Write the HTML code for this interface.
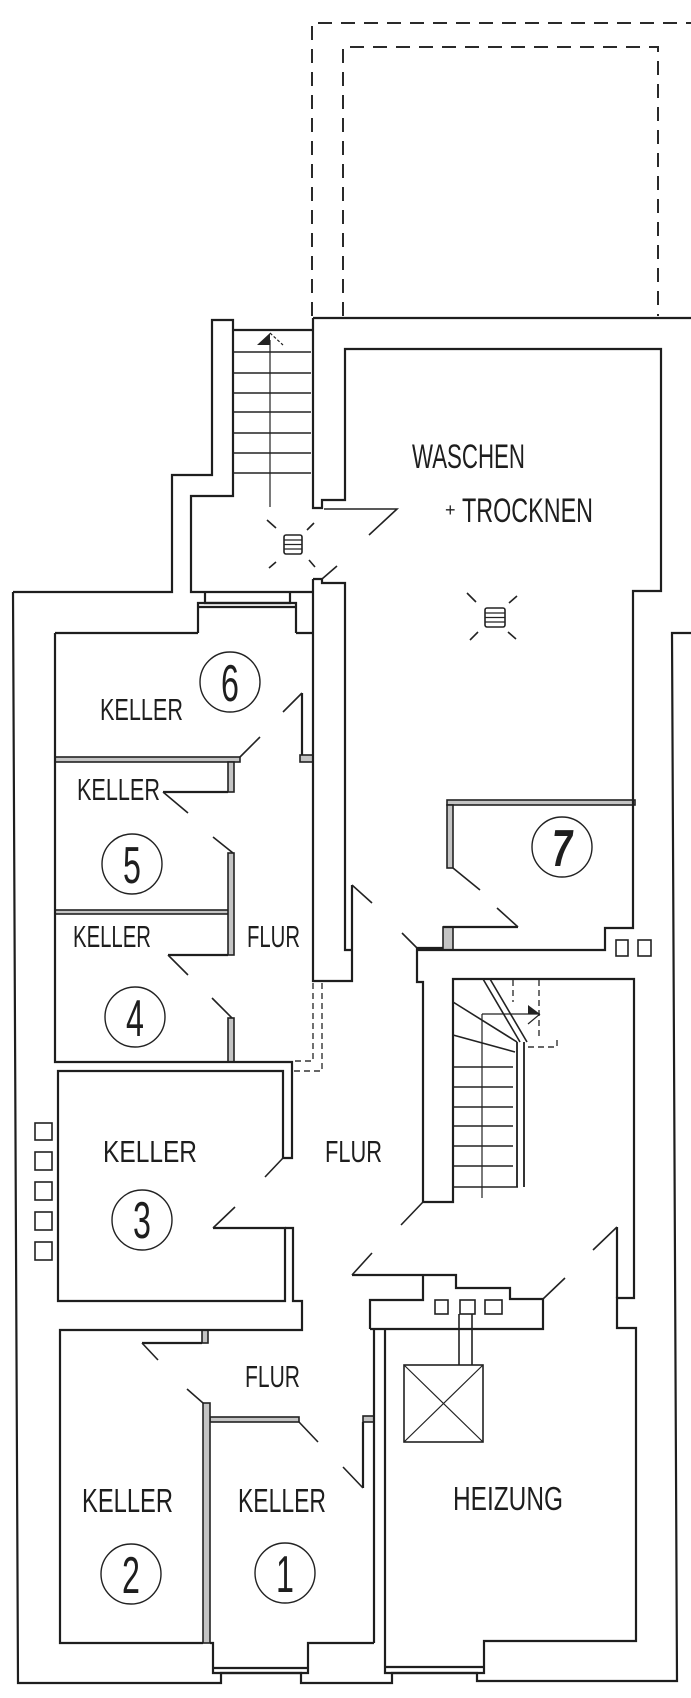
<!DOCTYPE html>
<html>
<head>
<meta charset="utf-8">
<style>
html,body{margin:0;padding:0;background:#fff;}
svg{display:block;}
text{font-family:"Liberation Sans Narrow","Liberation Sans",sans-serif;fill:#1e1e1e;}
</style>
</head>
<body>
<svg width="691" height="1698" viewBox="0 0 691 1698" xmlns="http://www.w3.org/2000/svg">
<rect width="691" height="1698" fill="#fff"/>

<!-- dashed outlines top -->
<g fill="none" stroke="#2a2a2a" stroke-width="2" stroke-dasharray="14,9">
  <path d="M312,316 V23 H691"/>
  <path d="M343,316 V47 H658 V316"/>
</g>

<!-- grey filled thick partitions -->
<g fill="#c4c4c4" stroke="#222" stroke-width="1.6">
  <rect x="55" y="757" width="185" height="5"/>
  <rect x="55" y="910" width="178" height="4"/>
  <rect x="228" y="762" width="6" height="30"/>
  <rect x="228" y="853" width="6" height="102"/>
  <rect x="228" y="1018" width="6" height="44"/>
  <rect x="300" y="755" width="13" height="7"/>
  <rect x="447" y="800" width="188" height="5"/>
  <rect x="447" y="805" width="6" height="63"/>
  <rect x="443" y="927" width="10" height="23"/>
  <rect x="210" y="1417" width="89" height="5"/>
  <rect x="203" y="1403" width="7" height="240"/>
  <rect x="202" y="1330" width="6" height="13"/>
  <rect x="363" y="1416" width="11" height="6"/>
</g>

<!-- main walls -->
<g fill="none" stroke="#1e1e1e" stroke-width="2.2" stroke-linejoin="miter">
  <!-- outer top solid -->
  <path d="M313,318 H691"/>
  <!-- stair left wall & landing -->
  <path d="M13,592 H172 V475 H212 V320 H233 V496 H191 V592 H313"/>
  <path d="M233,330 H313"/>
  <path d="M313,318 V508 H322 V500 H345 V349 H661 V591 H633 V928 H605 V950 H417"/>
  <path d="M313,579 H322 V583 H345 V950 H352"/>
  <path d="M313,579 V981 H352 V885"/>
  <!-- landing thresholds -->
  <path d="M205,592 V603 H290 V592"/>
  <path d="M198,633 V603 H296 V633"/>
  <path d="M198,607 H296"/>
  <!-- keller block 4-6 -->
  <path d="M55,633 H198"/>
  <path d="M296,633 H313"/>
  <path d="M55,633 V1062 H292 V1158 H283 V1071 H58 V1301 H285 V1228 H213"/>
  <path d="M285,1228 H293 V1301 H302 V1330 H60 V1643 H203"/>
  <!-- outer left & bottom -->
  <path d="M13,592 L18,1683 H221 V1673 H301 V1683 H392 V1673 H477 V1681 H677 L672,633 H691"/>
  <!-- keller 1 bottom & threshold -->
  <path d="M210,1643 H213 V1673 H308 V1643 H374"/>
  <path d="M213,1668 H308"/>
  <!-- heizung -->
  <path d="M374,1329 V1643"/>
  <path d="M385,1329 V1673 H484 V1641 H636 V1328 H617 V1298 H634 V979 H453 V1202 H423 V982 H417 V948 H443"/>
  <path d="M385,1667 H484"/>
  <path d="M370,1329 H543 V1299 H510 V1288 H456 V1275 H352"/>
  <path d="M370,1329 V1300 H423 V1275"/>
  <!-- keller 7 -->
  <path d="M518,927 H443"/>
  <!-- stair right stringer verticals -->
  <path d="M517,1042 V1187 M524,1042 V1187" stroke-width="1.8"/>
  <path d="M617,1227 V1298"/>
  <path d="M363,1422 V1488"/>
  <path d="M302,693 V755"/>
  <path d="M163,792 H228"/>
  <path d="M168,955 H228"/>
  <path d="M142,1343 H202"/>
</g>

<!-- dashed near keller 3 -->
<g fill="none" stroke="#333" stroke-width="1.4" stroke-dasharray="6,4">
  <path d="M313,983 V1061 H293"/>
  <path d="M322,983 V1071 H293"/>
  <path d="M513,980 V1002"/>
  <path d="M539,980 V1040"/>
  <path d="M528,1047 H557 V1040"/>
</g>

<!-- door ticks & stair lines -->
<g fill="none" stroke="#222" stroke-width="1.6">
  <path d="M324,509 H397 L369,535"/>
  <path d="M322,579 L337,566"/>
  <path d="M240,757 L260,737"/>
  <path d="M283,712 L302,693"/>
  <path d="M163,792 L188,813"/>
  <path d="M213,837 L233,853"/>
  <path d="M168,955 L188,975"/>
  <path d="M212,998 L232,1018"/>
  <path d="M352,885 L372,903"/>
  <path d="M402,933 L417,948"/>
  <path d="M453,868 L480,890"/>
  <path d="M497,908 L518,927"/>
  <path d="M283,1158 L265,1177"/>
  <path d="M213,1228 L235,1207"/>
  <path d="M423,1202 L401,1225"/>
  <path d="M352,1275 L372,1253"/>
  <path d="M543,1299 L565,1278"/>
  <path d="M617,1227 L593,1250"/>
  <path d="M142,1343 L158,1360"/>
  <path d="M187,1389 L203,1403"/>
  <path d="M299,1422 L318,1442"/>
  <path d="M343,1467 L363,1488"/>
  <!-- upper stair steps -->
  <path d="M233,352 H311 M233,373 H311 M233,393 H311 M233,412 H311 M233,433 H311 M233,453 H311 M233,473 H311"/>
  <path d="M270,340 V507" stroke-width="1.2"/>
  <!-- lower stair -->
  <path d="M483,979 L520,1042 M490,979 L527,1042"/>
  <path d="M453,1002 L517,1042 M453,1035 L515,1052"/>
  <path d="M454,1067 H513 M454,1087 H513 M454,1107 H513 M454,1126 H513 M454,1146 H513 M454,1166 H513 M454,1187 H518"/>
  <path d="M482,1014 V1198" stroke-width="1.2"/>
  <path d="M482,1014 H540" stroke-width="1.2"/>
  <!-- flue lines and heizung box -->
  <path d="M459,1314 V1365 M472,1314 V1365"/>
  <rect x="404" y="1365" width="79" height="77"/>
  <path d="M404,1365 L483,1442 M483,1365 L404,1442" stroke-width="1.2"/>
  <!-- small squares -->
  <rect x="35" y="1123" width="17" height="17"/>
  <rect x="35" y="1152" width="17" height="18"/>
  <rect x="35" y="1182" width="17" height="18"/>
  <rect x="35" y="1212" width="17" height="18"/>
  <rect x="35" y="1242" width="17" height="18"/>
  <rect x="616" y="940" width="12" height="16"/>
  <rect x="638" y="940" width="13" height="16"/>
  <rect x="435" y="1300" width="13" height="14"/>
  <rect x="460" y="1300" width="15" height="14"/>
  <rect x="485" y="1300" width="17" height="14"/>
  <!-- light fixtures -->
  <rect x="284" y="535" width="18" height="19" rx="2"/>
  <path d="M284,540 H302 M284,544.5 H302 M284,549 H302" stroke-width="1.2"/>
  <path d="M267,520 L276,528 M307,530 L314,523 M269,568 L276,562 M309,560 L315,567"/>
  <rect x="485" y="608" width="20" height="19" rx="2"/>
  <path d="M485,613 H505 M485,617.5 H505 M485,622 H505" stroke-width="1.2"/>
  <path d="M467,593 L476,602 M509,603 L517,596 M470,640 L478,632 M508,632 L516,639"/>
  <!-- circles -->
  <circle cx="230" cy="682" r="30" stroke-width="1.4"/>
  <circle cx="132" cy="864" r="30" stroke-width="1.4"/>
  <circle cx="135" cy="1017" r="30" stroke-width="1.4"/>
  <circle cx="142" cy="1220" r="30" stroke-width="1.4"/>
  <circle cx="131" cy="1574" r="30" stroke-width="1.4"/>
  <circle cx="285" cy="1573" r="30" stroke-width="1.4"/>
  <circle cx="562" cy="847" r="30" stroke-width="1.4"/>
</g>

<!-- arrowheads -->
<polygon points="270,333 257,345 270,345" fill="#222"/>
<path d="M270,333 L283,345" stroke="#222" stroke-width="1.2" stroke-dasharray="3,2" fill="none"/>
<polygon points="540,1014 528,1005 528,1014" fill="#222"/>
<path d="M540,1014 L528,1024" stroke="#222" stroke-width="1.2" fill="none"/>

<!-- labels -->
<g font-size="34">
  <text x="412" y="468" textLength="113" lengthAdjust="spacingAndGlyphs">WASCHEN</text>
  <text x="462" y="522" textLength="131" lengthAdjust="spacingAndGlyphs">TROCKNEN</text>
</g>
<text x="445" y="516" font-size="18">+</text>
<g font-size="31">
  <text x="100" y="720" textLength="83" lengthAdjust="spacingAndGlyphs">KELLER</text>
  <text x="77" y="800" textLength="83" lengthAdjust="spacingAndGlyphs">KELLER</text>
  <text x="73" y="947" textLength="78" lengthAdjust="spacingAndGlyphs">KELLER</text>
  <text x="247" y="947" textLength="53" lengthAdjust="spacingAndGlyphs">FLUR</text>
  <text x="103" y="1162" textLength="94" lengthAdjust="spacingAndGlyphs">KELLER</text>
  <text x="325" y="1162" textLength="57" lengthAdjust="spacingAndGlyphs">FLUR</text>
  <text x="245" y="1387" textLength="55" lengthAdjust="spacingAndGlyphs">FLUR</text>
</g>
<g font-size="33">
  <text x="82" y="1512" textLength="91" lengthAdjust="spacingAndGlyphs">KELLER</text>
  <text x="238" y="1512" textLength="88" lengthAdjust="spacingAndGlyphs">KELLER</text>
  <text x="453" y="1510" textLength="110" lengthAdjust="spacingAndGlyphs">HEIZUNG</text>
</g>
<g font-size="52" text-anchor="middle">
  <text transform="translate(230,701) scale(0.62,1)">6</text>
  <text transform="translate(132,883) scale(0.62,1)">5</text>
  <text transform="translate(135,1036) scale(0.62,1)">4</text>
  <text transform="translate(142,1238) scale(0.62,1)">3</text>
  <text transform="translate(131,1593) scale(0.62,1)">2</text>
  <text transform="translate(285,1592) scale(0.62,1)">1</text>
  <text transform="translate(562,866) scale(0.7,1)" font-weight="bold" font-style="italic">7</text>
</g>
</svg>
</body>
</html>
